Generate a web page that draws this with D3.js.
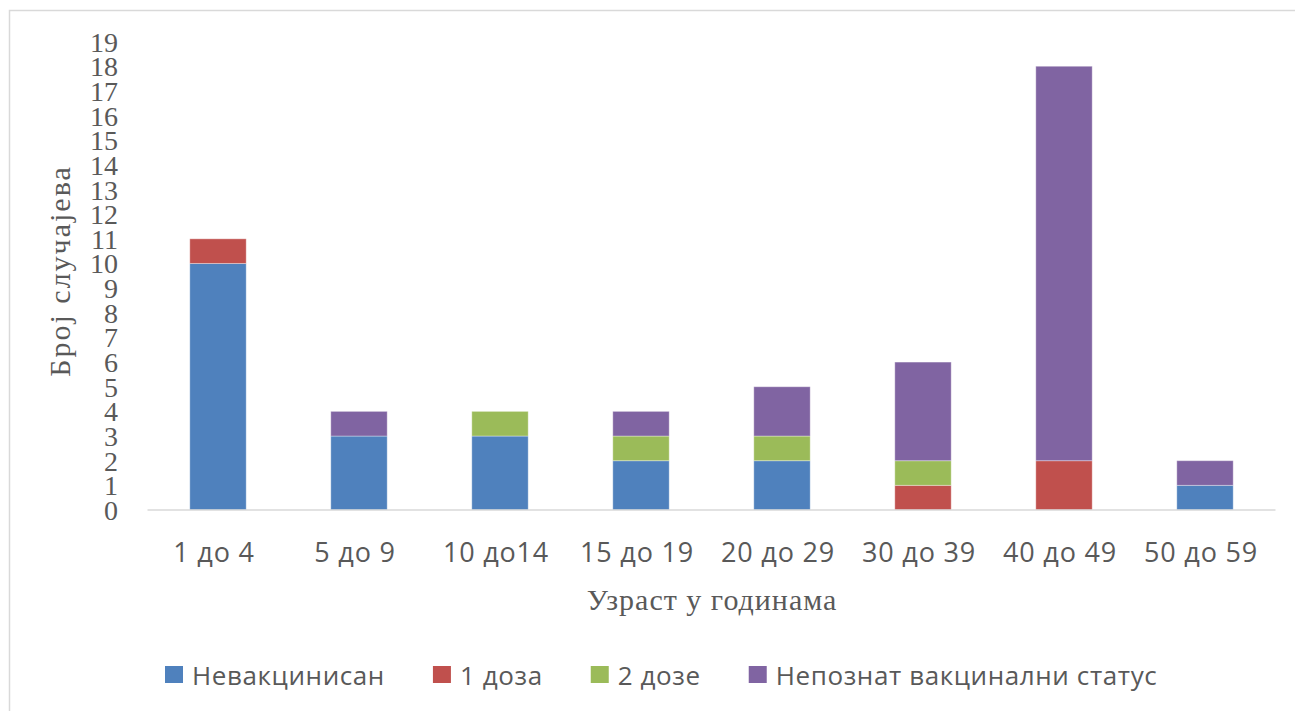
<!DOCTYPE html>
<html lang="sr">
<head>
<meta charset="utf-8">
<script src="https://cdn.jsdelivr.net/npm/d3@7"></script>
<style>
  body { margin: 0; background: #fff; }
  svg { display: block; }
</style>
</head>
<body>
<div id="chart"></div>
<script>
// data
let categories = ['1 до 4', '5 до 9', '10 до14', '15 до 19', '20 до 29', '30 до 39', '40 до 49', '50 до 59']
let seriesNames = ['Невакцинисан', '1 доза', '2 дозе', 'Непознат вакцинални статус']
let unvaccinated = [10, 3, 3, 2, 2, 0, 0, 1]
let oneDose      = [1, 0, 0, 0, 0, 1, 2, 0]
let twoDoses     = [0, 0, 1, 1, 1, 1, 0, 0]
let unknown      = [0, 1, 0, 1, 2, 4, 16, 1]
let yTickValues  = [0, 1, 2, 3, 4, 5, 6, 7, 8, 9, 10, 11, 12, 13, 14, 15, 16, 17, 18, 19]
let yTitle = 'Број случајева'
let xTitle = 'Узраст у годинама'

let w = 1295
let h = 711
let colors = ['#4F81BD', '#C0504D', '#9BBB59', '#8064A2']
let plot = { left: 147.5, right: 1275.5, top: 41.6, bottom: 510 }

let rows = categories.map(function(c, i) {
    return { cat: c, s0: unvaccinated[i], s1: oneDose[i], s2: twoDoses[i], s3: unknown[i] }
})
let stacked = d3.stack().keys(['s0', 's1', 's2', 's3'])(rows)

let xScale = d3.scaleBand()
    .domain(categories)
    .range([plot.left, plot.right])
    .paddingInner(0.6)
    .paddingOuter(0.3)
let yScale = d3.scaleLinear()
    .domain([0, 19])
    .range([plot.bottom, plot.top])

let svg = d3.select('#chart')
    .append('svg')
    .attr('width', w)
    .attr('height', h)

// chart frame (runs off the right and bottom edge)
svg.append('rect')
    .attr('x', 9.5)
    .attr('y', 10.5)
    .attr('width', 1400)
    .attr('height', 800)
    .attr('fill', 'none')
    .attr('stroke', '#d9d9d9')
    .attr('stroke-width', 1.5)

// bars
svg.append('g')
    .selectAll('g')
    .data(stacked)
    .join('g')
    .attr('fill', function(d, i) { return colors[i] })
    .selectAll('rect')
    .data(function(d) { return d.filter(function(p) { return p[1] > p[0] }) })
    .join('rect')
    .attr('x', function(d) { return xScale(d.data.cat) })
    .attr('width', xScale.bandwidth())
    .attr('y', function(d) { return yScale(d[1]) })
    .attr('height', function(d) { return yScale(d[0]) - yScale(d[1]) })
    .attr('stroke', 'rgba(255,255,255,0.35)')
    .attr('stroke-width', 1)

// baseline
svg.append('line')
    .attr('x1', plot.left)
    .attr('x2', plot.right)
    .attr('y1', yScale(0))
    .attr('y2', yScale(0))
    .attr('stroke', '#d9d9d9')
    .attr('stroke-width', 1.5)

// y axis labels
let yAxis = d3.axisLeft(yScale)
    .tickValues(yTickValues)
    .tickSize(0)
    .tickPadding(0)
let gy = svg.append('g')
    .attr('transform', 'translate(118,0)')
    .call(yAxis)
gy.select('.domain').remove()
gy.selectAll('text')
    .attr('dy', 9.5)
    .attr('fill', '#595959')
    .style('font-family', '"Liberation Serif", "Times New Roman", serif')
    .style('font-size', '28px')

// x axis labels
let xAxis = d3.axisBottom(xScale)
    .tickSize(0)
    .tickPadding(0)
let gx = svg.append('g')
    .attr('transform', 'translate(-4,' + plot.bottom + ')')
    .call(xAxis)
gx.select('.domain').remove()
gx.selectAll('text')
    .attr('dy', 0)
    .attr('y', 52)
    .attr('fill', '#595959')
    .style('font-family', '"Open Sans", sans-serif')
    .style('font-size', '27px')
    .style('letter-spacing', '0.8px')

// axis titles
svg.append('text')
    .attr('transform', 'translate(70,271) rotate(-90)')
    .attr('text-anchor', 'middle')
    .attr('fill', '#595959')
    .style('font-family', '"Liberation Serif", "Times New Roman", serif')
    .style('font-size', '30px')
    .style('letter-spacing', '2px')
    .text(yTitle)
svg.append('text')
    .attr('x', 712)
    .attr('y', 610)
    .attr('text-anchor', 'middle')
    .attr('fill', '#595959')
    .style('font-family', '"Liberation Serif", "Times New Roman", serif')
    .style('font-size', '30px')
    .style('letter-spacing', '1px')
    .text(xTitle)

// legend
let legend = svg.append('g').attr('transform', 'translate(165,0)')
let lx = 0
seriesNames.forEach(function(name, i) {
    let item = legend.append('g').attr('transform', 'translate(' + lx + ',0)')
    item.append('rect')
        .attr('x', 0)
        .attr('y', 666)
        .attr('width', 18)
        .attr('height', 17)
        .attr('fill', colors[i])
    let t = item.append('text')
        .attr('x', 27)
        .attr('y', 685)
        .attr('fill', '#595959')
        .style('font-family', '"Open Sans", sans-serif')
        .style('font-size', '26px')
        .style('letter-spacing', '0.6px')
        .text(name)
    lx += 27 + t.node().getComputedTextLength() + 48
})
</script>
</body>
</html>
